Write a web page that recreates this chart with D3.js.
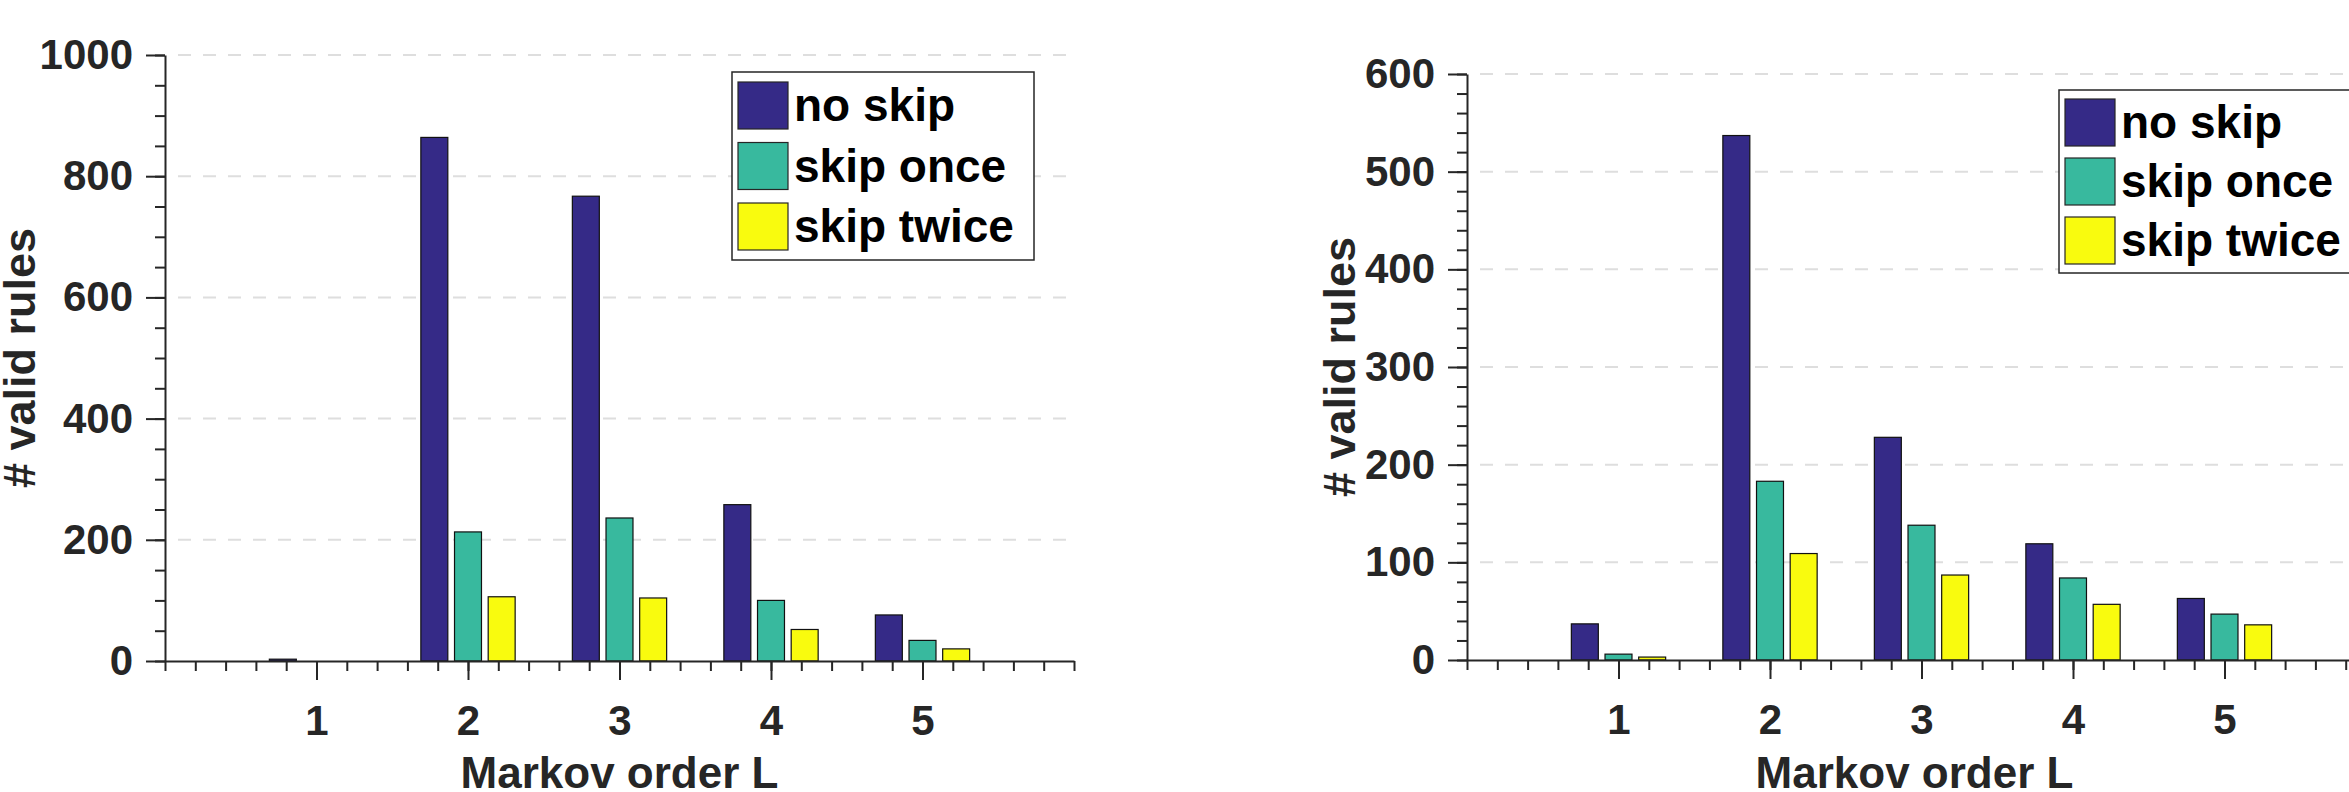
<!DOCTYPE html>
<html>
<head>
<meta charset="utf-8">
<script src="https://cdn.jsdelivr.net/npm/d3@7"></script>
<style>
  body { margin: 0; background: #fff; }
  svg { display: block; font-family: "Liberation Sans", Arial, Helvetica, sans-serif; font-weight: bold; }
</style>
</head>
<body>
<div id="chart"></div>
<script>
// data
const categories = [1, 2, 3, 4, 5];
const seriesNames = ["no skip", "skip once", "skip twice"];
const seriesColors = ["#352a87", "#38b99e", "#f9fb0e"];

const leftNoSkip = [3, 864, 767, 258, 76];
const leftSkipOnce = [0, 213, 236, 100, 34];
const leftSkipTwice = [0, 106, 104, 52, 20];

const rightNoSkip = [37, 537, 228, 119, 63];
const rightSkipOnce = [6, 183, 138, 84, 47];
const rightSkipTwice = [3, 109, 87, 57, 36];

const leftYTicks = [0, 200, 400, 600, 800, 1000];
const rightYTicks = [0, 100, 200, 300, 400, 500, 600];

const W = 2349, H = 792;

const svg = d3.select("#chart").append("svg")
    .attr("width", W)
    .attr("height", H);

svg.append("rect").attr("width", W).attr("height", H).attr("fill", "#fff");

function panel(cfg) {
  const x = d3.scaleLinear().domain([0, 6]).range([cfg.left, cfg.left + 909]);
  const y = d3.scaleLinear().domain([0, cfg.yMax]).range([cfg.bottom, cfg.top]);
  const g = svg.append("g");

  // dashed grid
  g.selectAll("line.grid")
    .data(cfg.yTicks.filter(d => d > 0))
    .join("line")
      .attr("x1", x.range()[0] + 13)
      .attr("x2", x.range()[1])
      .attr("y1", d => y(d))
      .attr("y2", d => y(d))
      .attr("stroke", "#dedede")
      .attr("stroke-width", 2)
      .attr("stroke-dasharray", "13,12");

  // bars
  const series = cfg.series;
  const offsets = [-0.2222, 0, 0.2222];
  const bw = x(0.178) - x(0);
  series.forEach((vals, si) => {
    g.selectAll(null)
      .data(vals.map((v, i) => ({ cat: categories[i], v })))
      .join("rect")
        .attr("x", d => x(d.cat + offsets[si]) - bw / 2)
        .attr("y", d => y(d.v))
        .attr("width", bw)
        .attr("height", d => y(0) - y(d.v))
        .attr("fill", seriesColors[si])
        .attr("stroke", d => d.v > 0 ? "#111" : "none")
        .attr("stroke-width", 1.2);
  });

  // y axis: minor then major
  const minorY = d3.range(0, cfg.yMax + 1e-9, cfg.yMinor);
  g.append("g")
      .attr("transform", `translate(${x.range()[0]},0)`)
      .call(d3.axisLeft(y).tickValues(minorY).tickSize(10).tickFormat(""))
      .call(a => a.select(".domain").remove());
  const ya = g.append("g")
      .attr("transform", `translate(${x.range()[0]},0)`)
      .call(d3.axisLeft(y).tickValues(cfg.yTicks).tickSize(19).tickSizeOuter(0).tickPadding(13).tickFormat(d3.format("d")));
  ya.selectAll("text").attr("font-size", 42).attr("font-weight", "bold").attr("fill", "#262626")
    .attr("font-family", "Liberation Sans, Arial, sans-serif");

  // x axis: minor then major
  const minorX = d3.range(0, 6.0001, 0.2);
  g.append("g")
      .attr("transform", `translate(0,${y(0)})`)
      .call(d3.axisBottom(x).tickValues(minorX).tickSize(10).tickFormat(""))
      .call(a => a.select(".domain").remove());
  const xa = g.append("g")
      .attr("transform", `translate(0,${y(0)})`)
      .call(d3.axisBottom(x).tickValues(categories).tickSize(19).tickSizeOuter(0).tickPadding(25).tickFormat(d3.format("d")));
  xa.selectAll("text").attr("font-size", 42).attr("font-weight", "bold").attr("fill", "#262626")
    .attr("font-family", "Liberation Sans, Arial, sans-serif");

  g.selectAll(".tick line").attr("stroke", "#262626").attr("stroke-width", 2);
  g.selectAll(".domain").attr("stroke", "#262626").attr("stroke-width", 2);

  // axis titles
  g.append("text")
      .attr("transform", `translate(${cfg.yLabelX},${(cfg.top + cfg.bottom) / 2}) rotate(-90)`)
      .attr("text-anchor", "middle")
      .attr("font-size", 45)
      .attr("fill", "#262626")
      .text("# valid rules");
  g.append("text")
      .attr("x", (x.range()[0] + x.range()[1]) / 2 - cfg.xLabelShift)
      .attr("y", 788)
      .attr("text-anchor", "middle")
      .attr("font-size", 44)
      .attr("fill", "#262626")
      .text("Markov order L");

  // legend
  const lg = g.append("g").attr("transform", `translate(${cfg.legX},${cfg.legY})`);
  lg.append("rect")
      .attr("width", 302).attr("height", cfg.legH)
      .attr("fill", "#fff").attr("stroke", "#262626").attr("stroke-width", 1.5);
  seriesNames.forEach((name, i) => {
    const ry = cfg.legPad + i * cfg.legStep;
    lg.append("rect")
        .attr("x", 6).attr("y", ry)
        .attr("width", 50).attr("height", 47)
        .attr("fill", seriesColors[i]).attr("stroke", "#262626").attr("stroke-width", 1.2);
    lg.append("text")
        .attr("x", 62).attr("y", ry + 39)
        .attr("font-size", 46)
        .attr("fill", "#000")
        .text(name);
  });
}

panel({
  left: 165, top: 55, bottom: 661, yMax: 1000, yMinor: 50, yTicks: leftYTicks,
  series: [leftNoSkip, leftSkipOnce, leftSkipTwice],
  yLabelX: 35, xLabelShift: 0,
  legX: 732, legY: 72, legH: 188, legPad: 10, legStep: 60.5
});

panel({
  left: 1467, top: 74, bottom: 660, yMax: 600, yMinor: 20, yTicks: rightYTicks,
  series: [rightNoSkip, rightSkipOnce, rightSkipTwice],
  yLabelX: 1355, xLabelShift: 7,
  legX: 2059, legY: 90, legH: 183, legPad: 9, legStep: 59
});
</script>
</body>
</html>
